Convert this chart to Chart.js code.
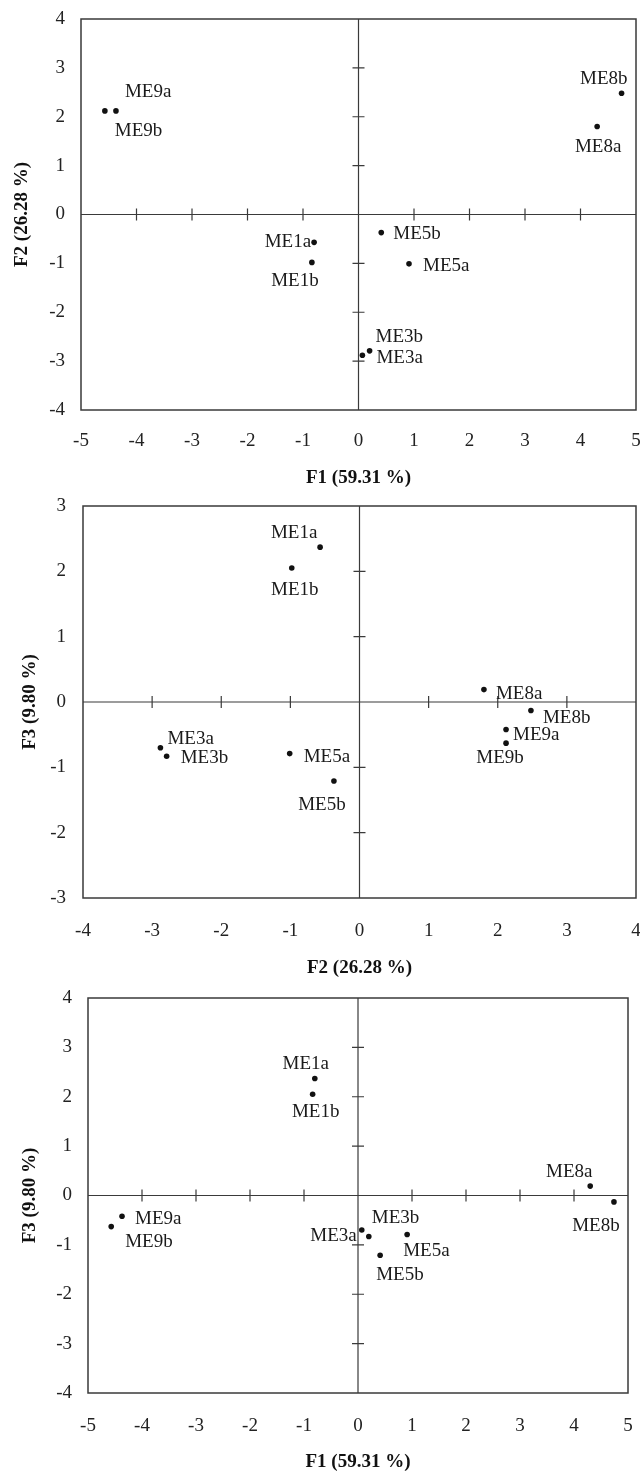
<!DOCTYPE html>
<html><head><meta charset="utf-8">
<script src="https://cdn.jsdelivr.net/npm/chart.js@4.4.1/dist/chart.umd.min.js"></script>
<style>
html,body{margin:0;padding:0;background:#fff;}
canvas{display:block;}
</style></head><body>
<canvas id="c1" width="640" height="490"></canvas>
<canvas id="c2" width="640" height="490"></canvas>
<canvas id="c3" width="640" height="493"></canvas>
<script>
// ---- data ----
const samples = ['ME1a','ME1b','ME3a','ME3b','ME5a','ME5b','ME8a','ME8b','ME9a','ME9b'];
const F1 = [-0.80, -0.84, 0.07, 0.20, 0.91, 0.41, 4.30, 4.74, -4.37, -4.57];
const F2 = [-0.57, -0.98, -2.88, -2.79, -1.01, -0.37, 1.80, 2.48, 2.12, 2.12];
const F3 = [2.37, 2.05, -0.70, -0.83, -0.79, -1.21, 0.19, -0.13, -0.42, -0.63];
const ticksF1 = [-5,-4,-3,-2,-1,0,1,2,3,4,5];
const ticksF2 = [-4,-3,-2,-1,0,1,2,3,4];
const ticksF3a = [-3,-2,-1,0,1,2,3];
const ticksF3b = [-4,-3,-2,-1,0,1,2,3,4];
const titleF1 = 'F1 (59.31 %)';
const titleF2 = 'F2 (26.28 %)';
const titleF3 = 'F3 (9.80 %)';

// ---- label placement (style only): [align, dx, dy] in sample order ----
const offs1 = [['right',-3,0],['center',-17,19],['left',14,3],['left',6,-14],['left',14,2],['left',12,1],['center',1,20],['right',6,-14],['left',9,-19],['left',10,20]];
const offs2 = [['center',-26,-14],['center',3,22],['left',7,-9],['left',14,2],['left',14,3],['center',-12,24],['left',12,4],['left',12,8],['left',7,6],['center',-6,15]];
const offs3 = [['center',-9,-14],['center',3,18],['right',-5,6],['left',3,-18],['left',-4,17],['left',-4,20],['center',-21,-14],['center',-18,24],['left',13,3],['left',14,15]];

const FONT = "'Liberation Serif','Times New Roman',serif";

const framePlugin = {
  id: 'frame',
  beforeDatasetsDraw(chart) {
    const {ctx, chartArea: a, scales: {x, y}} = chart;
    ctx.save();
    ctx.strokeStyle = '#3a3a3a';
    ctx.lineWidth = 1.5;
    ctx.strokeRect(a.left, a.top, a.right - a.left, a.bottom - a.top);
    const x0 = x.getPixelForValue(0), y0 = y.getPixelForValue(0);
    ctx.lineWidth = 1.2;
    ctx.beginPath();
    ctx.moveTo(a.left, y0); ctx.lineTo(a.right, y0);
    ctx.moveTo(x0, a.top); ctx.lineTo(x0, a.bottom);
    x.ticks.forEach(t => {
      if (t.value === 0 || t.value === x.min || t.value === x.max) return;
      const p = x.getPixelForValue(t.value);
      ctx.moveTo(p, y0 - 6); ctx.lineTo(p, y0 + 6);
    });
    y.ticks.forEach(t => {
      if (t.value === 0 || t.value === y.min || t.value === y.max) return;
      const p = y.getPixelForValue(t.value);
      ctx.moveTo(x0 - 6, p); ctx.lineTo(x0 + 6, p);
    });
    ctx.stroke();
    ctx.restore();
  }
};

const labelPlugin = {
  id: 'ptLabels',
  afterDatasetsDraw(chart, args, opts) {
    const {ctx} = chart;
    const meta = chart.getDatasetMeta(0);
    ctx.save();
    ctx.fillStyle = '#1a1a1a';
    ctx.font = '19px ' + FONT;
    ctx.textBaseline = 'middle';
    meta.data.forEach((pt, i) => {
      const o = opts.offsets[i];
      ctx.textAlign = o[0];
      ctx.fillText(samples[i], pt.x + o[1], pt.y + o[2]);
    });
    ctx.restore();
  }
};

function makeChart(id, xs, ys, xTicks, yTicks, xTitle, yTitle, g, offsets) {
  return new Chart(document.getElementById(id), {
    type: 'scatter',
    data: {
      datasets: [{
        data: samples.map((s, i) => ({x: xs[i], y: ys[i]})),
        pointRadius: 2.8,
        pointHoverRadius: 2.8,
        backgroundColor: '#111',
        borderWidth: 0
      }]
    },
    options: {
      responsive: false,
      animation: false,
      events: [],
      layout: {padding: {top: g.top, right: g.right, left: 0, bottom: 0}},
      plugins: {legend: {display: false}, tooltip: {enabled: false}, ptLabels: {offsets}},
      scales: {
        x: {
          type: 'linear', min: xTicks[0], max: xTicks[xTicks.length - 1],
          afterBuildTicks: s => { s.ticks = xTicks.map(v => ({value: v})); },
          afterFit: s => { s.height = g.xH; s.paddingLeft = 0; s.paddingRight = 0; },
          grid: {display: false, drawTicks: false},
          border: {display: false},
          ticks: {padding: g.xTickPad, color: '#222', font: {family: FONT, size: 19}, maxRotation: 0, autoSkip: false},
          title: {display: true, text: xTitle, color: '#111', font: {family: FONT, size: 19, weight: 'bold'}, padding: {top: 0, bottom: g.xTitlePad}}
        },
        y: {
          type: 'linear', min: yTicks[0], max: yTicks[yTicks.length - 1],
          afterBuildTicks: s => { s.ticks = yTicks.map(v => ({value: v})); },
          afterFit: s => { s.width = g.yW; s.paddingTop = 0; s.paddingBottom = 0; },
          grid: {display: false, drawTicks: false},
          border: {display: false},
          ticks: {padding: g.yTickPad, color: '#222', font: {family: FONT, size: 19}, autoSkip: false},
          title: {display: true, text: yTitle, color: '#111', font: {family: FONT, size: 19, weight: 'bold'}, padding: {top: g.yTitlePad, bottom: 0}}
        }
      }
    },
    plugins: [framePlugin, labelPlugin]
  });
}

makeChart('c1', F1, F2, ticksF1, ticksF2, titleF1, titleF2,
  {top: 19, right: 4, yW: 81, xH: 80, xTickPad: 20, yTickPad: 16, xTitlePad: 1, yTitlePad: 11}, offs1);
makeChart('c2', F2, F3, ticksF2, ticksF3a, titleF2, titleF3,
  {top: 16, right: 4, yW: 83, xH: 82, xTickPad: 22, yTickPad: 17, xTitlePad: 1, yTitlePad: 19}, offs2);
makeChart('c3', F1, F3, ticksF1, ticksF3b, titleF1, titleF3,
  {top: 18, right: 12, yW: 88, xH: 80, xTickPad: 22, yTickPad: 16, xTitlePad: 0, yTitlePad: 19}, offs3);
</script>
</body></html>
